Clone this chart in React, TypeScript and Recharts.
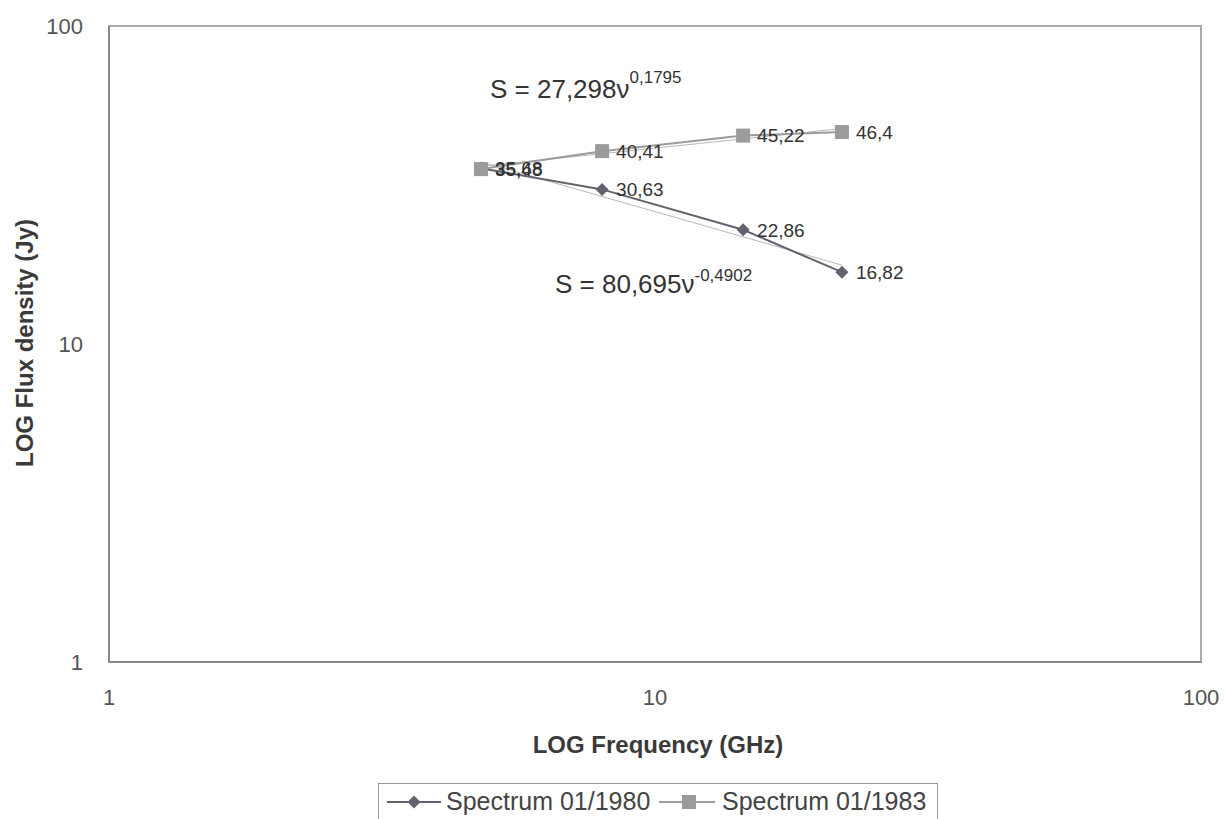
import {
  Customized,
  LabelList,
  Line,
  LineChart,
  ReferenceArea,
  XAxis,
  YAxis
} from "recharts";

const freqs = [4.8, 8.0, 14.5, 22.0];
const spectrum1980 = [35.68, 30.63, 22.86, 16.82];
const spectrum1983 = [35.48, 40.41, 45.22, 46.4];
const trendFreqs = [4.8, 22.0];
const trend1980 = [37.4, 17.7];
const trend1983 = [36.2, 47.6];
const axisTicks = [1, 10, 100];
const seriesNames = ["Spectrum 01/1980", "Spectrum 01/1983"];

const toPoints = (xs: number[], ys: number[]) =>
  xs.map((x, i) => ({ x, y: ys[i] }));

const data1980 = toPoints(freqs, spectrum1980);
const data1983 = toPoints(freqs, spectrum1983);
const trendData1980 = toPoints(trendFreqs, trend1980);
const trendData1983 = toPoints(trendFreqs, trend1983);

const FONT = "'Liberation Sans', Arial, sans-serif";
const C1980 = "#62626f";
const C1983 = "#9b9b9b";

const fmt = (v: any) => String(v).replace(".", ",");

const Diamond = (props: any) => {
  const { cx, cy } = props;
  if (cx == null || cy == null) return null;
  const r = 6.5;
  return (
    <path
      d={`M${cx},${cy - r}L${cx + r},${cy}L${cx},${cy + r}L${cx - r},${cy}Z`}
      fill={C1980}
    />
  );
};

const Square = (props: any) => {
  const { cx, cy } = props;
  if (cx == null || cy == null) return null;
  return <rect x={cx - 7} y={cy - 7} width={14} height={14} fill={C1983} />;
};

// equations + axis titles
const Annotations = () => (
  <g fontFamily={FONT}>
    <text x={490} y={98} fontSize={26} fill="#333">
      S = 27,298ν
      <tspan fontSize={17} dy={-15}>0,1795</tspan>
    </text>
    <text x={555} y={293} fontSize={26} fill="#333">
      S = 80,695ν
      <tspan fontSize={17} dy={-12}>-0,4902</tspan>
    </text>
    <text
      x={658}
      y={753}
      fontSize={24}
      fontWeight="bold"
      fill="#3a3a3a"
      textAnchor="middle"
    >
      LOG Frequency (GHz)
    </text>
    <text
      x={33}
      y={343}
      fontSize={24}
      fontWeight="bold"
      fill="#3a3a3a"
      textAnchor="middle"
      transform="rotate(-90 33 343)"
    >
      LOG Flux density (Jy)
    </text>
  </g>
);

const LegendBox = () => {
  const item = (left: number, top: number, extra: any = {}) => ({
    position: "absolute" as const,
    left,
    top,
    ...extra
  });
  return (
    <div
      style={{
        position: "absolute",
        left: 378,
        top: 783,
        width: 560,
        height: 50,
        border: "1px solid #999",
        boxSizing: "border-box",
        fontFamily: FONT,
        fontSize: 25,
        color: "#444",
        background: "#fff",
        whiteSpace: "nowrap"
      }}
    >
      <svg width={54} height={20} style={item(8, 8)}>
        <line x1={0} y1={10} x2={54} y2={10} stroke={C1980} strokeWidth={2} />
        <Diamond cx={27} cy={10} />
      </svg>
      <span style={item(67, 3)}>{seriesNames[0]}</span>
      <svg width={56} height={20} style={item(280, 8)}>
        <line x1={0} y1={10} x2={56} y2={10} stroke={C1983} strokeWidth={2} />
        <Square cx={30} cy={10} />
      </svg>
      <span style={item(343, 3)}>{seriesNames[1]}</span>
    </div>
  );
};

export default function App() {
  const tickStyle = { fontSize: 22, fill: "#555", fontFamily: FONT };
  const labelStyle = { fontSize: 19, fill: "#333", fontFamily: FONT };
  return (
    <div
      style={{
        position: "absolute",
        left: 0,
        top: 0,
        width: 1227,
        height: 819,
        background: "#fff",
        overflow: "hidden"
      }}
    >
      <LineChart
        width={1227}
        height={819}
        margin={{ top: 26, right: 26, left: 0, bottom: 0 }}
      >
        <ReferenceArea
          x1={1}
          x2={100}
          y1={1}
          y2={100}
          fill="none"
          stroke="#aaa"
          strokeWidth={2}
        />
        <XAxis
          type="number"
          dataKey="x"
          scale="log"
          domain={[1, 100]}
          ticks={axisTicks}
          allowDataOverflow
          height={157}
          axisLine={{ stroke: "#888", strokeWidth: 2 }}
          tickLine={false}
          tick={tickStyle}
          tickMargin={21}
        />
        <YAxis
          type="number"
          dataKey="y"
          scale="log"
          domain={[1, 100]}
          ticks={axisTicks}
          allowDataOverflow
          width={109}
          axisLine={{ stroke: "#888", strokeWidth: 2 }}
          tickLine={false}
          tick={tickStyle}
          tickMargin={20}
        />
        <Line
          data={trendData1980}
          dataKey="y"
          stroke="#b8b8b8"
          strokeWidth={1}
          dot={false}
          isAnimationActive={false}
        />
        <Line
          data={trendData1983}
          dataKey="y"
          stroke="#b8b8b8"
          strokeWidth={1}
          dot={false}
          isAnimationActive={false}
        />
        <Line
          data={data1980}
          dataKey="y"
          name={seriesNames[0]}
          stroke={C1980}
          strokeWidth={2}
          dot={<Diamond />}
          isAnimationActive={false}
        >
          <LabelList
            dataKey="y"
            position="right"
            offset={14}
            formatter={fmt}
            style={labelStyle}
          />
        </Line>
        <Line
          data={data1983}
          dataKey="y"
          name={seriesNames[1]}
          stroke={C1983}
          strokeWidth={2}
          dot={<Square />}
          isAnimationActive={false}
        >
          <LabelList
            dataKey="y"
            position="right"
            offset={14}
            formatter={fmt}
            style={labelStyle}
          />
        </Line>
        <Customized component={<Annotations />} />
      </LineChart>
      <LegendBox />
    </div>
  );
}
